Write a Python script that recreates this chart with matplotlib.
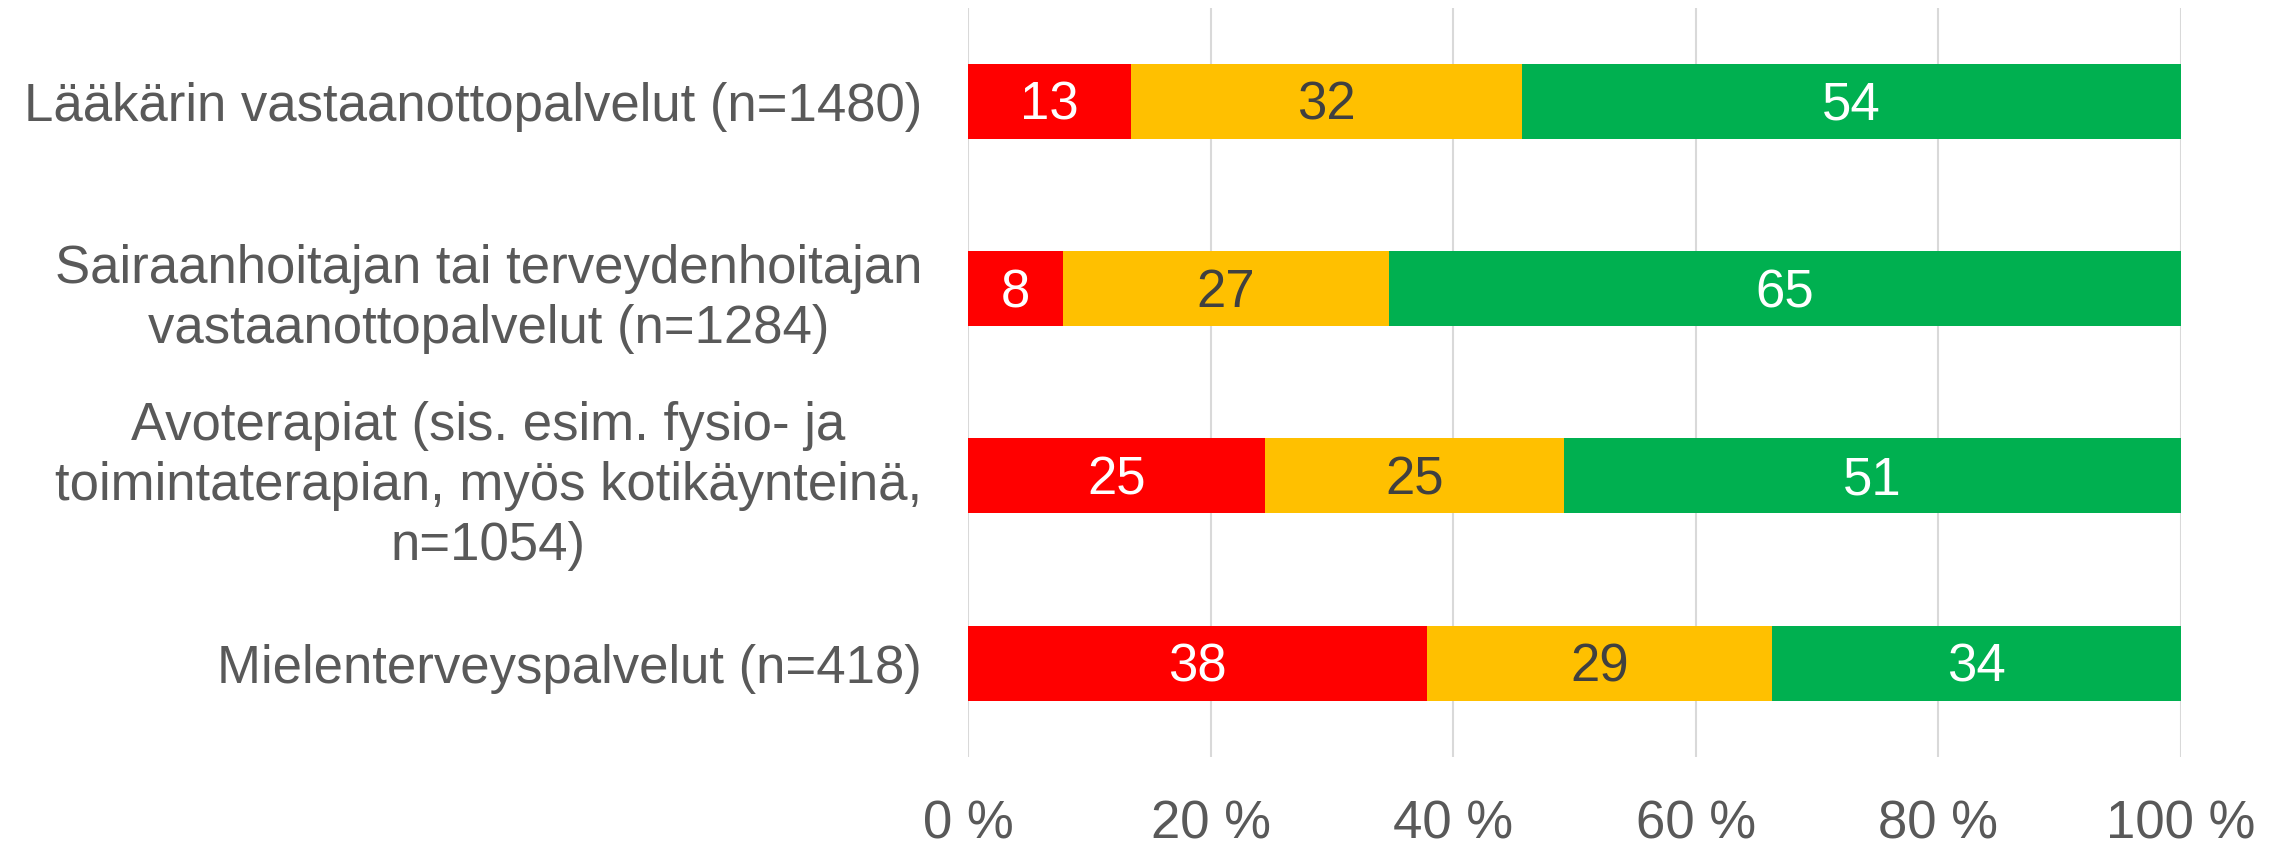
import matplotlib
matplotlib.use("Agg")
import matplotlib.pyplot as plt
import numpy as np

plt.rcParams['font.family'] = ['Liberation Sans', 'DejaVu Sans']

categories = [
    "Lääkärin vastaanottopalvelut (n=1480)",
    "Sairaanhoitajan tai terveydenhoitajan\nvastaanottopalvelut (n=1284)",
    "Avoterapiat (sis. esim. fysio- ja\ntoimintaterapian, myös kotikäynteinä,\nn=1054)",
    "Mielenterveyspalvelut (n=418)",
]
red_vals = [13.4, 7.8, 24.5, 37.8]
yellow_vals = [32.3, 26.9, 24.6, 28.5]
green_vals = [54.3, 65.3, 50.9, 33.7]
red_labels = ["13", "8", "25", "38"]
yellow_labels = ["32", "27", "25", "29"]
green_labels = ["54", "65", "51", "34"]
xticks = [0, 20, 40, 60, 80, 100]
xtick_labels = ["0 %", "20 %", "40 %", "60 %", "80 %", "100 %"]

FS = 38

fig = plt.figure(figsize=(22.84, 8.47), dpi=100)
ax = fig.add_axes([0.4240, 0.1066, 0.5307, 0.8843])

y = np.arange(len(categories))
series = [
    (red_vals, red_labels, "#FF0000", "white"),
    (yellow_vals, yellow_labels, "#FFC000", "#404040"),
    (green_vals, green_labels, "#00B050", "white"),
]
left = np.zeros(len(categories))
for vals, labs, col, tcol in series:
    vals = np.array(vals)
    ax.barh(y, vals, left=left, height=0.4, color=col, zorder=3)
    for yi, xc, lab in zip(y, left + vals / 2, labs):
        ax.annotate(lab, (xc, yi), xytext=(0, -13.4), textcoords='offset points',
                    ha='center', va='baseline', color=tcol, fontsize=FS, zorder=4)
    left = left + vals

ax.set_xlim(0, 100)
ax.set_ylim(len(categories) - 0.5, -0.5)
ax.set_xticks(xticks)
ax.set_xticklabels(xtick_labels)
ax.set_yticks(y)
ax.set_yticklabels(categories, multialignment='center', linespacing=1.25)
ax.tick_params(axis='both', length=0, labelsize=FS, colors='#595959')
ax.tick_params(axis='y', pad=33.5)
ax.tick_params(axis='x', pad=31)
ax.grid(axis='x', color='#D9D9D9', linewidth=1.5, zorder=0)
for s in ax.spines.values():
    s.set_visible(False)

fig.savefig("out.png", dpi=100, facecolor='white')
